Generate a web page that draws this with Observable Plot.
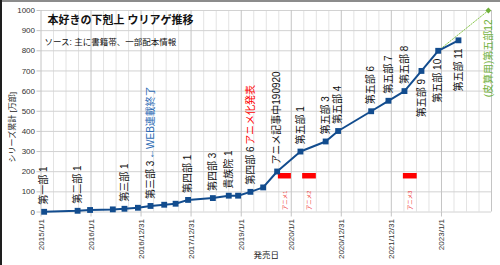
<!DOCTYPE html>
<html><head><meta charset="utf-8">
<script src="https://cdn.jsdelivr.net/npm/d3@7"></script>
<script src="https://cdn.jsdelivr.net/npm/@observablehq/plot@0.6"></script>
<style>
html,body{margin:0;padding:0;background:#fff;}
#wrap{position:relative;width:500px;height:265px;overflow:hidden;}
#wrap svg{position:absolute;left:0;top:0;}
#bt{position:absolute;left:0;top:0;width:500px;height:2px;background:#8c8c8c;z-index:2;}
#bl{position:absolute;left:0;top:0;width:2px;height:265px;background:#1e1e1e;z-index:2;}
</style></head><body>
<div id="wrap"><div id="bt"></div><div id="bl"></div></div>
<script>
// ---- data ----
const title = "本好きの下剋上 ウリアゲ推移";
const subtitle = "ソース: 主に書籍帯、一部配本情報";
const yLabel = "シリーズ累計 [万部]";
const xLabel = "発売日";

const releaseDates = ["2015-01-24","2015-09-25","2015-12-25","2016-06-08","2016-09-01","2016-12-08",
  "2017-03-10","2017-06-18","2017-09-09","2017-12-09","2018-06-08","2018-10-02","2018-12-09",
  "2019-03-09","2019-06-10","2019-09-20","2020-03-08","2020-09-08","2020-12-08","2021-08-06",
  "2021-12-10","2022-04-06","2022-08-08","2022-12-08","2023-05-05"];
const sales = [1,6,10,13,16,21,30,36,41,60,69,81,81,100,122,201,300,350,402,500,552,600,700,800,852];
const pointLabels = ["第一部 1","第二部 1","","","第三部 1","","第三部 3","","","第四部 1","第四部 3",
  "貴族院 1","","第四部 6","","アニメ記事中190920","第五部 1","第五部 3","第五部 4","第五部 6",
  "第五部 7","第五部 8","第五部 9","第五部 10","第五部 11"];

const forecastDates = ["2022-12-08","2023-12-09"];
const forecastSales = [800, 1000];
const forecastLabel = "(皮算用)第五部12";

const webNote = "←WEB連載終了";      // attached to 第三部 3
const animeNote = "アニメ化発表";      // attached to 第四部 6

const animeLabels = ["アニメ1","アニメ2","アニメ3"];
const animeStart = ["2019-09-29","2020-03-24","2022-03-29"];
const animeEnd = ["2020-01-02","2020-07-02","2022-07-08"];
const animeLevel = 180;

const tickLabels = ["2015/1/1","2016/1/1","2016/12/31","2017/12/31","2019/1/1","2020/1/1","2020/12/31","2021/12/31","2023/1/1"];
const yTicks = [0,100,200,300,400,500,600,700,800,900,1000];

// ---- build ----
const parseIso = d3.utcParse("%Y-%m-%d");
const parseSlash = d3.utcParse("%Y/%m/%d");
const fmt = d3.utcFormat("%Y/%-m/%-d");
const tickDates = tickLabels.map(parseSlash);
const x0 = tickDates[0];
const xEnd = parseIso("2024-01-01");
const dayMs = 864e5;
const minorDates = d3.range(1, 36).filter(k => k % 4 !== 0)
  .map(k => new Date(+x0 + k * 365.25 / 4 * dayMs));

const pts = releaseDates.map((d, i) => ({date: parseIso(d), v: sales[i], label: pointLabels[i], i}));
const above = pts.filter(p => p.label && p.i < 22);
const below = pts.filter(p => p.label && p.i >= 22);
const fc = forecastDates.map((d, i) => ({date: parseIso(d), v: forecastSales[i]}));
const fcEnd = fc[fc.length - 1];
const anime = animeLabels.map((l, i) => ({label: l, s: parseIso(animeStart[i]), e: parseIso(animeEnd[i]),
  mid: new Date((+parseIso(animeStart[i]) + +parseIso(animeEnd[i])) / 2), v: animeLevel}));

const BLUE = "#124c8e";
const FONT = "'Liberation Sans', 'Noto Sans CJK JP', sans-serif";

const chart = Plot.plot({
  width: 500, height: 265,
  marginLeft: 40.5, marginRight: 9, marginTop: 10, marginBottom: 53.5,
  style: {fontFamily: FONT, background: "transparent", color: "#222"},
  x: {type: "utc", domain: [x0, xEnd]},
  y: {domain: [0, 1000]},
  marks: [
    Plot.ruleX(minorDates, {stroke: "#e3e3e3", strokeWidth: 1}),
    Plot.gridY({ticks: yTicks, stroke: "#d2d2d2", strokeOpacity: 1}),
    Plot.gridX({ticks: [...tickDates, xEnd], stroke: "#c4c4c4", strokeOpacity: 1}),
    Plot.axisY({ticks: yTicks, tickFormat: d3.format("d"), tickSize: 4, tickPadding: 2, fontSize: 8,
      stroke: "#c4c4c4", fill: "#333", label: null}),
    Plot.axisX({ticks: tickDates, tickFormat: fmt, tickRotate: -90, tickSize: 5, tickPadding: 2,
      fontSize: 8, stroke: "#c4c4c4", fill: "#333", label: null}),
    Plot.ruleY(anime, {x1: "s", x2: "e", y: "v", stroke: "#ff0000", strokeWidth: 5.5}),
    Plot.text(anime, {x: "mid", y: "v", text: "label", rotate: -90, textAnchor: "end", dy: 15,
      fontSize: 5.5, fill: "#f03a3a"}),
    Plot.line(fc, {x: "date", y: "v", stroke: "#8cc850", strokeWidth: 1, strokeDasharray: "1.5,1.5"}),
    Plot.dot([fcEnd], {x: "date", y: "v", symbol: "diamond2", r: 2.6, fill: "#6fb03a", stroke: "none"}),
    Plot.line(pts, {x: "date", y: "v", stroke: BLUE, strokeWidth: 2}),
    Plot.dot(pts, {x: "date", y: "v", symbol: "square", r: 3.3, fill: BLUE, stroke: "none"}),
    Plot.text(above, {x: "date", y: "v", text: "label", rotate: -90, textAnchor: "start", dy: -7,
      fontSize: 10, fill: "#111"}),
    Plot.text(below, {x: "date", y: "v", text: "label", rotate: -90, textAnchor: "end", dy: 8,
      fontSize: 10, fill: "#111"}),
    Plot.text([fcEnd], {x: "date", y: "v", text: () => forecastLabel, rotate: -90, textAnchor: "end", dy: 9,
      fontSize: 10, fill: "#6fb03a"}),
    Plot.text([pts[6]], {x: "date", y: "v", text: () => webNote, rotate: -90, textAnchor: "start", dy: -47,
      fontSize: 10, fill: "#2f6db5"}),
    Plot.text([pts[13]], {x: "date", y: "v", text: () => animeNote, rotate: -90, textAnchor: "start", dy: -47,
      fontSize: 10, fill: "#ff0000"}),
    Plot.text([title], {frameAnchor: "top-left", dx: 6.5, dy: 10, lineAnchor: "middle", textAnchor: "start",
      fontSize: 11, fontWeight: "bold", fill: "#111"}),
    Plot.text([subtitle], {frameAnchor: "top-left", dx: 3.5, dy: 32, lineAnchor: "middle", textAnchor: "start",
      fontSize: 8.5, fill: "#111"}),
    Plot.text([yLabel], {frameAnchor: "left", dx: -28.5, dy: 16, rotate: -90, lineAnchor: "middle",
      textAnchor: "middle", fontSize: 8, fill: "#222"}),
    Plot.text([xLabel], {frameAnchor: "bottom", dy: 43.5, lineAnchor: "middle", textAnchor: "middle",
      fontSize: 8.5, fill: "#222"})
  ]
});
document.getElementById("wrap").appendChild(chart);
</script>
</body></html>
